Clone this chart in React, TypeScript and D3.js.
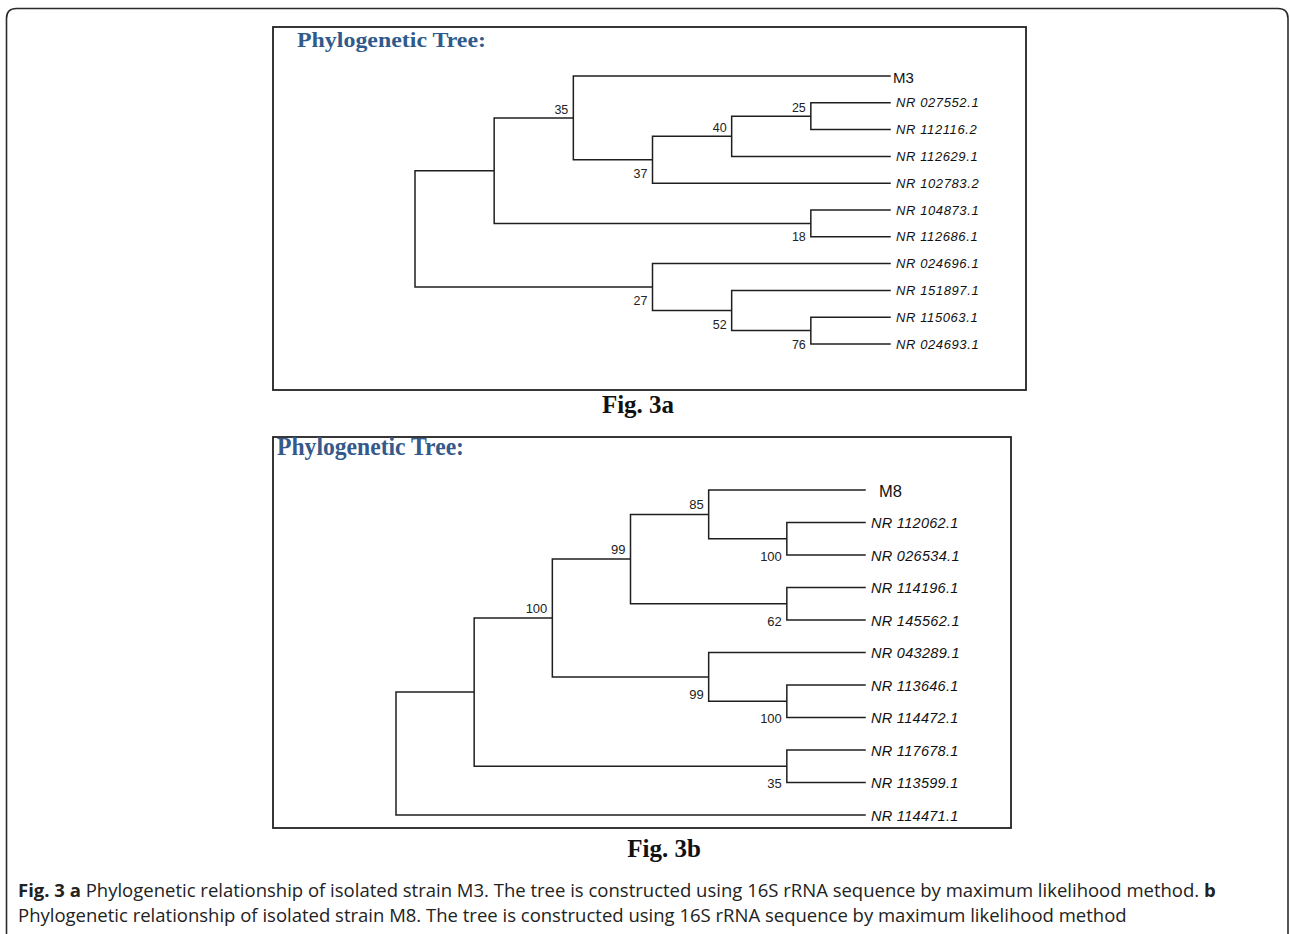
import React from "react";
import * as d3 from "d3";

// ---------- DATA ----------
// Tree topologies with bootstrap support values (Newick)
const treeANewick =
  "(((M3,(((NR 027552.1,NR 112116.2)25,NR 112629.1)40,NR 102783.2)37)35,(NR 104873.1,NR 112686.1)18),(NR 024696.1,(NR 151897.1,(NR 115063.1,NR 024693.1)76)52)27);";
const treeBNewick =
  "(((((M8,(NR 112062.1,NR 026534.1)100)85,(NR 114196.1,NR 145562.1)62)99,(NR 043289.1,(NR 113646.1,NR 114472.1)100)99)100,(NR 117678.1,NR 113599.1)35),NR 114471.1);";

const panelTitles = ["Phylogenetic Tree:", "Phylogenetic Tree:"];
const figLabels = ["Fig. 3a", "Fig. 3b"];
const captionLine1 = [
  { t: "Fig. 3 a", b: true },
  { t: " Phylogenetic relationship of isolated strain M3. The tree is constructed using 16S rRNA sequence by maximum likelihood method. ", b: false },
  { t: "b", b: true },
];
const captionLine2 =
  "Phylogenetic relationship of isolated strain M8. The tree is constructed using 16S rRNA sequence by maximum likelihood method";

// ---------- helpers ----------
type NNode = { name?: string; support?: number; children?: NNode[] };

function parseNewick(s: string): NNode {
  let i = 0;
  function node(): NNode {
    const n: NNode = {};
    if (s[i] === "(") {
      i++;
      n.children = [];
      n.children.push(node());
      while (s[i] === ",") {
        i++;
        n.children.push(node());
      }
      i++; // ')'
    }
    let label = "";
    while (i < s.length && !",);".includes(s[i])) label += s[i++];
    label = label.trim();
    if (n.children) {
      if (label) n.support = +label;
    } else n.name = label;
    return n;
  }
  return node();
}

type TreeCfg = {
  newick: string;
  rootX: number;
  leafX: number;
  yTop: number;
  yBot: number;
  supFont: number;
  aboveDy: number;
  belowDy: number;
  leafFont: number;
  leafLs: number;
  leafDy: number;
  strainFont: number;
  strainGap: number;
  strainDy: number;
};

function Tree({ cfg }: { cfg: TreeCfg }) {
  const root = d3.hierarchy<NNode>(parseNewick(cfg.newick), (d) => d.children);
  const leaves = root.leaves();
  const yScale = d3.scaleLinear().domain([0, leaves.length - 1]).range([cfg.yTop, cfg.yBot]);
  const xScale = d3.scaleLinear().domain([root.height, 0]).range([cfg.rootX, cfg.leafX]);
  const pos = new Map<any, { x: number; y: number }>();
  leaves.forEach((l, i) => pos.set(l, { x: xScale(0), y: yScale(i) }));
  root.eachAfter((n) => {
    if (n.children) {
      const ys = n.children.map((c) => pos.get(c)!.y);
      pos.set(n, { x: xScale(n.height), y: (ys[0] + ys[ys.length - 1]) / 2 });
    }
  });
  const path = d3.path();
  root.each((n) => {
    const p = pos.get(n)!;
    if (n.parent) {
      const pp = pos.get(n.parent)!;
      path.moveTo(pp.x, p.y);
      path.lineTo(p.x, p.y);
    }
    if (n.children) {
      const ys = n.children.map((c) => pos.get(c)!.y);
      path.moveTo(p.x, ys[0]);
      path.lineTo(p.x, ys[ys.length - 1]);
    }
  });
  const supports = root.descendants().filter((n) => n.children && n.data.support !== undefined && n.parent);
  return (
    <g>
      <path d={path.toString()} fill="none" stroke="#1f1f1f" strokeWidth={1.5} strokeLinecap="square" />
      {supports.map((n, i) => {
        const p = pos.get(n)!;
        const upper = n.parent!.children![0] === n;
        return (
          <text
            key={"s" + i}
            x={p.x - 5}
            y={p.y + (upper ? cfg.aboveDy : cfg.belowDy)}
            textAnchor="end"
            fontFamily="'Liberation Sans', Arial, sans-serif"
            fontSize={cfg.supFont}
            fill="#222"
          >
            {n.data.support}
          </text>
        );
      })}
      {leaves.map((l, i) => {
        const p = pos.get(l)!;
        const name = l.data.name || "";
        const strain = !name.startsWith("NR");
        return strain ? (
          <text
            key={"l" + i}
            x={p.x + cfg.strainGap}
            y={p.y + cfg.strainDy}
            fontFamily="'Liberation Sans', Arial, sans-serif"
            fontSize={cfg.strainFont}
            fill="#111"
          >
            {name}
          </text>
        ) : (
          <text
            key={"l" + i}
            x={p.x + 6}
            y={p.y + cfg.leafDy}
            fontFamily="'Liberation Sans', Arial, sans-serif"
            fontStyle="italic"
            fontSize={cfg.leafFont}
            letterSpacing={cfg.leafLs}
            fill="#111"
          >
            {name}
          </text>
        );
      })}
    </g>
  );
}

const cfgA: TreeCfg = {
  newick: treeANewick,
  rootX: 415,
  leafX: 890,
  yTop: 76,
  yBot: 344,
  supFont: 12.5,
  aboveDy: -4,
  belowDy: 18,
  leafFont: 13,
  leafLs: 0.6,
  leafDy: 4.5,
  strainFont: 15,
  strainGap: 3,
  strainDy: 7,
};
const cfgB: TreeCfg = {
  newick: treeBNewick,
  rootX: 396,
  leafX: 865,
  yTop: 490,
  yBot: 815,
  supFont: 13,
  aboveDy: -5,
  belowDy: 22,
  leafFont: 14.5,
  leafLs: 0.3,
  leafDy: 5.5,
  strainFont: 16.5,
  strainGap: 14,
  strainDy: 6.5,
};

export default function App() {
  const W = 1290;
  const H = 934;
  const r = 10;
  const frame = `M6.5,${H + 5} L6.5,${8.5 + r} Q6.5,8.5 ${6.5 + r},8.5 L${1288 - r},8.5 Q1288,8.5 1288,${8.5 + r} L1288,${H + 5}`;
  return (
    <svg
      width={W}
      height={H}
      viewBox={`0 0 ${W} ${H}`}
      style={{ position: "absolute", left: 0, top: 0, display: "block", background: "#fff" }}
    >
      <rect x={0} y={0} width={W} height={H} fill="#fff" />
      <path d={frame} fill="none" stroke="#2b2b2b" strokeWidth={1.6} />

      {/* Panel a */}
      <rect x={273} y={27} width={753} height={363} fill="none" stroke="#222" strokeWidth={1.8} />
      <text
        x={297}
        y={47}
        fontFamily="'Liberation Serif', 'DejaVu Serif', serif"
        fontWeight="bold"
        fontSize={21}
        fill="#2f5b8c"
        textLength={189}
        lengthAdjust="spacingAndGlyphs"
      >
        {panelTitles[0]}
      </text>
      <Tree cfg={cfgA} />
      <text
        x={638}
        y={413}
        textAnchor="middle"
        fontFamily="'Liberation Serif', 'Times New Roman', serif"
        fontWeight="bold"
        fontSize={25}
        fill="#111"
      >
        {figLabels[0]}
      </text>

      {/* Panel b */}
      <rect x={273} y={437} width={738} height={391} fill="none" stroke="#222" strokeWidth={1.8} />
      <text
        x={277}
        y={455}
        fontFamily="'Liberation Serif', 'DejaVu Serif', serif"
        fontWeight="bold"
        fontSize={25}
        fill="#35598a"
        textLength={187}
        lengthAdjust="spacingAndGlyphs"
      >
        {panelTitles[1]}
      </text>
      <Tree cfg={cfgB} />
      <text
        x={664}
        y={857}
        textAnchor="middle"
        fontFamily="'Liberation Serif', 'Times New Roman', serif"
        fontWeight="bold"
        fontSize={25}
        fill="#111"
      >
        {figLabels[1]}
      </text>

      {/* Caption */}
      <text x={18} y={897} fontFamily="'Open Sans', 'Noto Sans', sans-serif" fontSize={18.5} fill="#222">
        {captionLine1.map((s, i) => (
          <tspan key={i} fontWeight={s.b ? "bold" : "normal"}>
            {s.t}
          </tspan>
        ))}
      </text>
      <text x={18} y={922} fontFamily="'Open Sans', 'Noto Sans', sans-serif" fontSize={18.5} fill="#222">
        {captionLine2}
      </text>
    </svg>
  );
}
